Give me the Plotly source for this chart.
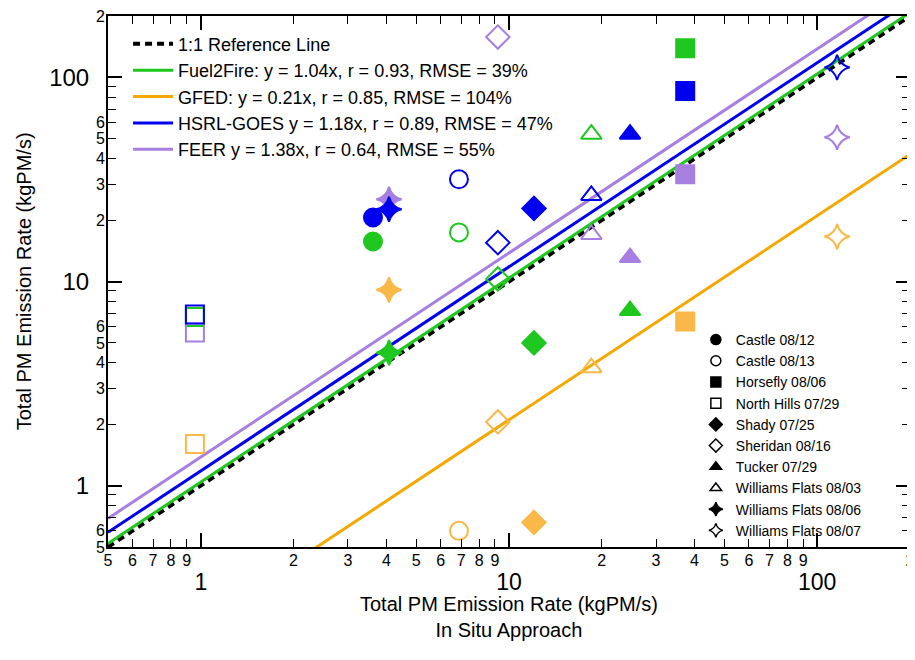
import plotly.graph_objects as go
import numpy as np

# ---------------- data ----------------
fires = ["Castle 08/12", "Castle 08/13", "Horsefly 08/06", "North Hills 07/29",
         "Shady 07/25", "Sheridan 08/16", "Tucker 07/29", "Williams Flats 08/03",
         "Williams Flats 08/06", "Williams Flats 08/07"]
symbols = ["circle", "circle-open", "square", "square-open", "diamond",
           "diamond-open", "triangle-up", "triangle-up-open", "star-diamond",
           "star-diamond-open"]
insitu = [3.62, 6.88, 37.3, 0.957, 12.05, 9.2, 24.7, 18.5, 4.08, 116]

fuel2fire = [15.7, 17.4, 139, 6.7, 5.0, 10.3, 7.2, 52.7, 4.48, None]
gfed = [None, 0.60, 6.36, 1.6, 0.66, 2.05, None, 3.78, 9.1, 16.6]
hsrl = [20.6, 31.7, 85.7, 6.89, 22.8, 15.5, 52.7, 26.4, 22.6, 112]
feer = [None, None, 33.5, 5.62, None, 157.7, 13.1, 17.0, 25.3, 50.9]

fit_names = ["Fuel2Fire: y = 1.04x, r = 0.93, RMSE = 39%",
             "GFED: y = 0.21x, r = 0.85, RMSE = 104%",
             "HSRL-GOES y = 1.18x, r = 0.89, RMSE = 47%",
             "FEER y = 1.38x, r = 0.64, RMSE = 55%"]
slopes = [1.04, 0.21, 1.18, 1.38]
line_x = [0.5, 200]

x_minor_vals = [0.5, 0.6, 0.7, 0.8, 0.9, 2, 3, 4, 5, 6, 7, 8, 9,
                20, 30, 40, 50, 60, 70, 80, 90, 199.99]
x_minor_text = ["5", "6", "7", "8", "9", "2", "3", "4", "5", "6", "7", "8", "9",
                "2", "3", "4", "5", "6", "7", "8", "9", "2"]
y_minor_vals = [0.5, 0.6, 2, 3, 4, 5, 6, 20, 30, 40, 50, 60, 200]
y_minor_text = ["5", "6", "2", "3", "4", "5", "6", "2", "3", "4", "5", "6", "2"]
major_vals = [1, 10, 100]
major_text = ["1", "10", "100"]

x_title = "Total PM Emission Rate (kgPM/s)<br>In Situ Approach"
y_title = "Total PM Emission Rate (kgPM/s)"

# ---------------- styles ----------------
line_colors = ["#1ec81e", "#f5a800", "#0000f0", "#a67fe0"]
marker_colors = ["#1ec81e", "#f9b848", "#0000f0", "#a67fe0"]
FONT = "Liberation Sans, Arial, sans-serif"

fig = go.Figure()

# 1:1 line
fig.add_trace(go.Scatter(x=line_x, y=line_x, mode="lines", name="1:1 Reference Line",
                         line=dict(color="black", width=4, dash="7px,5px"), legend="legend"))
for name, s, c in zip(fit_names, slopes, line_colors):
    fig.add_trace(go.Scatter(x=line_x, y=[s * v for v in line_x], mode="lines", name=name,
                             line=dict(color=c, width=3), legend="legend"))

# data points
for series, mc in [(fuel2fire, marker_colors[0]), (gfed, marker_colors[1]),
                   (feer, marker_colors[3]), (hsrl, marker_colors[2])]:
    for xi, yi, sym in zip(insitu, series, symbols):
        if yi is None:
            continue
        fig.add_trace(go.Scatter(x=[xi], y=[yi], mode="markers", showlegend=False,
                                 marker=dict(symbol=sym, size=18, color=mc,
                                             line=dict(color=mc, width=2))))

# symbol legend (dummy entries)
for f, sym in zip(fires, symbols):
    fig.add_trace(go.Scatter(x=[None], y=[None], mode="markers", name=f, legend="legend2",
                             marker=dict(symbol=sym, size=10, color="black",
                                         line=dict(color="black", width=1.5))))

# invisible trace for the overlay axes
fig.add_trace(go.Scatter(x=line_x, y=line_x, xaxis="x2", yaxis="y2", mode="lines",
                         line=dict(width=0), showlegend=False, hoverinfo="skip"))

xr = [np.log10(0.5), np.log10(200)]
common = dict(type="log", range=xr, showgrid=False, zeroline=False, automargin=False)

fig.update_layout(
    width=907, height=652,
    margin=dict(l=100, r=5, t=8, b=113, autoexpand=False),
    paper_bgcolor="white", plot_bgcolor="white",
    font=dict(family=FONT, color="black"),
    xaxis=dict(**common, tickvals=major_vals, ticktext=major_text,
               ticks="inside", ticklen=14, tickwidth=1.5, tickcolor="black",
               showline=True, linecolor="black", linewidth=2, mirror="ticks",
               tickfont=dict(size=23), ticklabelstandoff=13,
               minor=dict(dtick="D1", ticks="inside", ticklen=8, tickwidth=1.2,
                          tickcolor="black")),
    yaxis=dict(**common, tickvals=major_vals, ticktext=major_text,
               ticks="inside", ticklen=14, tickwidth=1.5, tickcolor="black",
               showline=True, linecolor="black", linewidth=2, mirror="ticks",
               tickfont=dict(size=24), ticklabelstandoff=12,
               minor=dict(dtick="D1", ticks="inside", ticklen=8, tickwidth=1.2,
                          tickcolor="black")),
    xaxis2=dict(**common, overlaying="x", anchor="y", side="bottom",
                tickvals=x_minor_vals, ticktext=x_minor_text, ticks="",
                tickfont=dict(size=16), showline=False, ticklabelstandoff=2,
                ticklabeloverflow="allow"),
    yaxis2=dict(**common, overlaying="y", anchor="x", side="left",
                tickvals=y_minor_vals, ticktext=y_minor_text, ticks="",
                tickfont=dict(size=16), showline=False, ticklabelstandoff=2,
                ticklabeloverflow="allow"),
    legend=dict(x=0.025, y=0.982, xanchor="left", yanchor="top",
                bgcolor="rgba(0,0,0,0)", font=dict(size=18), tracegroupgap=0,
                itemwidth=40),
    legend2=dict(x=0.733, y=0.42, xanchor="left", yanchor="top",
                 bgcolor="rgba(0,0,0,0)", font=dict(size=14), tracegroupgap=0,
                 itemwidth=30),
    annotations=[
        dict(text=x_title, xref="paper", yref="paper", x=0.5, y=-0.131,
             xanchor="center", yanchor="middle", showarrow=False, font=dict(size=20)),
        dict(text=y_title, xref="paper", yref="paper", x=-0.105, y=0.5,
             xanchor="center", yanchor="middle", textangle=-90, showarrow=False,
             font=dict(size=20)),
    ],
)

fig.write_html("out.html")
